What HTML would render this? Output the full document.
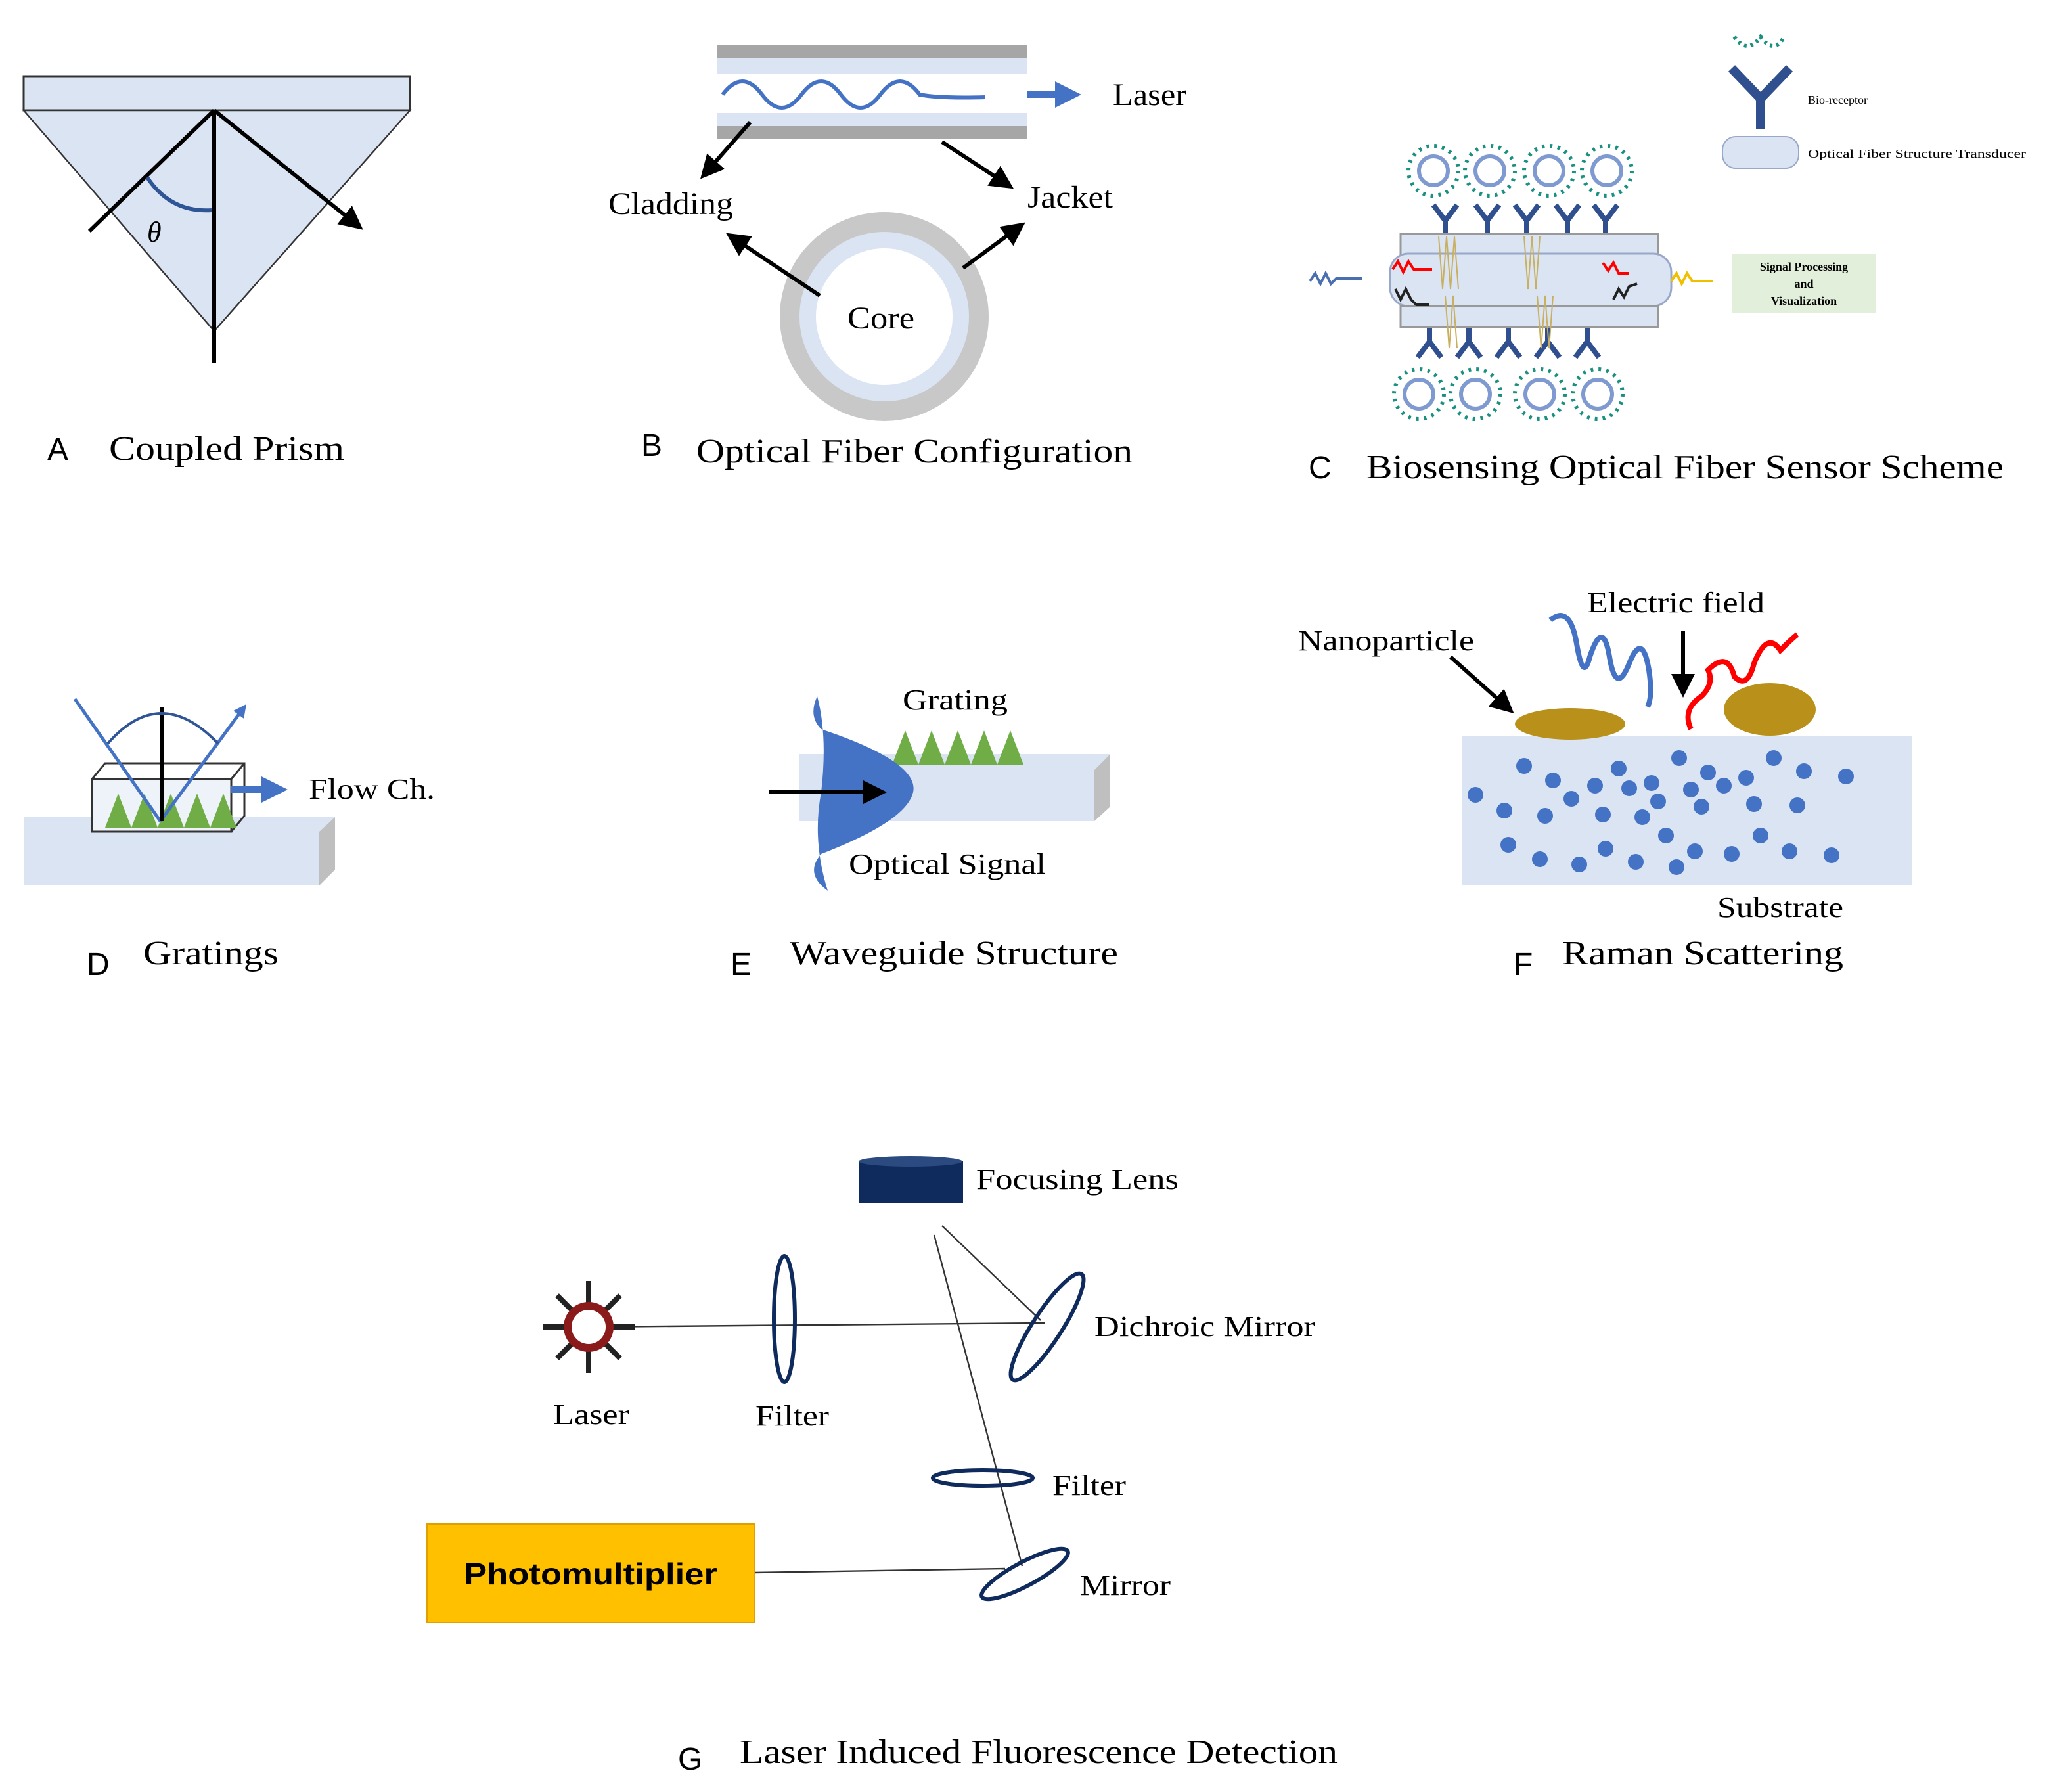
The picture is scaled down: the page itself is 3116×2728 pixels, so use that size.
<!DOCTYPE html>
<html><head><meta charset="utf-8"><style>html,body{margin:0;padding:0;background:#fff}svg{display:block}</style></head><body>
<svg width="3116" height="2728" viewBox="0 0 1558 1364" xmlns="http://www.w3.org/2000/svg" font-family="'Liberation Serif', serif">
<defs>
<marker id="ab" markerWidth="6" markerHeight="6" refX="5" refY="3" orient="auto" markerUnits="strokeWidth"><path d="M0,0 L6,3 L0,6 Z" fill="#000"/></marker>
<marker id="ablue" markerWidth="4" markerHeight="4" refX="3" refY="2" orient="auto" markerUnits="strokeWidth"><path d="M0,0 L4,2 L0,4 Z" fill="#4472c4"/></marker>
<g id="virus"><circle r="11" fill="none" stroke="#7f9ad0" stroke-width="3"/><circle r="19" fill="none" stroke="#1a9080" stroke-width="3" stroke-dasharray="2 4"/></g>
<g id="yr"><path d="M0,0 V-14 M0,-14 L-9,-26 M0,-14 L9,-26" stroke="#2f4f8f" stroke-width="4" fill="none"/></g>
</defs>

<!-- A -->
<rect x="18" y="58" width="294" height="26" fill="#dbe4f3" stroke="#333" stroke-width="1.5"/>
<polygon points="18,84 312,84 163,252" fill="#dbe4f3" stroke="#333" stroke-width="1.2"/>
<line x1="163" y1="84" x2="163" y2="276" stroke="#000" stroke-width="3"/>
<line x1="68" y1="176" x2="163" y2="84" stroke="#000" stroke-width="3"/>
<line x1="163" y1="84" x2="274" y2="173" stroke="#000" stroke-width="3" marker-end="url(#ab)"/>
<path d="M112,135 Q130,162 161,160" fill="none" stroke="#2f5597" stroke-width="3"/>
<text x="112" y="184" font-size="22" font-style="italic">θ</text>
<text x="36" y="350" font-size="24" font-family="'Liberation Sans',sans-serif">A</text>
<text x="83" y="350" font-size="26" textLength="179" lengthAdjust="spacingAndGlyphs">Coupled Prism</text>

<!-- B -->
<rect x="546" y="34" width="236" height="10" fill="#a6a6a6"/>
<rect x="546" y="44" width="236" height="12" fill="#dbe4f3"/>
<rect x="546" y="86" width="236" height="10" fill="#dbe4f3"/>
<rect x="546" y="96" width="236" height="10" fill="#a6a6a6"/>
<path d="M550,72 Q565,52 580,72 T610,72 T640,72 T670,72 T700,72 Q715,75 750,74" fill="none" stroke="#4472c4" stroke-width="3"/>
<line x1="782" y1="72" x2="818" y2="72" stroke="#4472c4" stroke-width="5" marker-end="url(#ablue)"/>
<text x="847" y="80" font-size="24" textLength="56" lengthAdjust="spacingAndGlyphs">Laser</text>
<line x1="571" y1="93" x2="535" y2="134" stroke="#000" stroke-width="3" marker-end="url(#ab)"/>
<line x1="717" y1="108" x2="769" y2="142" stroke="#000" stroke-width="3" marker-end="url(#ab)"/>
<text x="463" y="163" font-size="24" textLength="95" lengthAdjust="spacingAndGlyphs">Cladding</text>
<text x="782" y="158" font-size="24" textLength="65" lengthAdjust="spacingAndGlyphs">Jacket</text>
<circle cx="673" cy="241" r="72" fill="#dbe4f3" stroke="#c8c8c8" stroke-width="15"/>
<circle cx="673" cy="241" r="52" fill="#fff"/>
<text x="645" y="250" font-size="24" textLength="51" lengthAdjust="spacingAndGlyphs">Core</text>
<line x1="624" y1="225" x2="555" y2="179" stroke="#000" stroke-width="3" marker-end="url(#ab)"/>
<line x1="733" y1="204" x2="778" y2="171" stroke="#000" stroke-width="3" marker-end="url(#ab)"/>
<text x="488" y="347" font-size="24" font-family="'Liberation Sans',sans-serif">B</text>
<text x="530" y="352" font-size="26" textLength="332" lengthAdjust="spacingAndGlyphs">Optical Fiber Configuration</text>

<!-- C -->
<use href="#virus" x="1091" y="130"/><use href="#virus" x="1134" y="130"/><use href="#virus" x="1179" y="130"/><use href="#virus" x="1223" y="130"/>
<use href="#virus" x="1080" y="300"/><use href="#virus" x="1123" y="300"/><use href="#virus" x="1172" y="300"/><use href="#virus" x="1216" y="300"/>
<use href="#yr" x="1100" y="182"/><use href="#yr" x="1132" y="182"/><use href="#yr" x="1162" y="182"/><use href="#yr" x="1193" y="182"/><use href="#yr" x="1222" y="182"/>
<g transform="translate(0,428) scale(1,-1)"><use href="#yr" x="1088" y="182"/><use href="#yr" x="1118" y="182"/><use href="#yr" x="1148" y="182"/><use href="#yr" x="1178" y="182"/><use href="#yr" x="1208" y="182"/></g>
<rect x="1066" y="178" width="196" height="16" fill="#dbe4f3" stroke="#999" stroke-width="1.5"/>
<rect x="1058" y="193" width="214" height="40" rx="14" fill="#dbe4f3" stroke="#99a8c8" stroke-width="1.5"/>
<rect x="1066" y="233" width="196" height="16" fill="#dbe4f3" stroke="#999" stroke-width="1.5"/>
<path d="M1095,180 l3,40 l3,-40 l3,40 l3,-40 l3,40 M1160,180 l3,40 l3,-40 l3,40 l3,-40 M1100,225 l3,40 l3,-40 l3,40 M1170,225 l3,40 l3,-40 l3,40 l3,-40" stroke="#c8b060" stroke-width="1" fill="none"/>
<path d="M997,214 l4,-6 l4,8 l4,-8 l4,8 l4,-4 h20" stroke="#4a6fb0" stroke-width="2" fill="none"/>
<path d="M1060,205 l4,-6 l4,8 l4,-8 l4,6 h14" stroke="red" stroke-width="2" fill="none"/>
<path d="M1062,220 l4,8 l4,-8 l4,8 l4,4 h10" stroke="#222" stroke-width="2" fill="none"/>
<path d="M1220,200 l4,6 l4,-6 l4,8 h8" stroke="red" stroke-width="2" fill="none"/>
<path d="M1228,228 l4,-8 l4,6 l4,-8 l6,-2" stroke="#222" stroke-width="2" fill="none"/>
<path d="M1272,214 l4,-6 l4,8 l4,-8 l4,6 h16" stroke="#f0c000" stroke-width="2" fill="none"/>
<rect x="1318" y="193" width="110" height="45" fill="#e2efda"/>
<text x="1373" y="206" font-size="9" font-weight="bold" text-anchor="middle">Signal Processing</text>
<text x="1373" y="219" font-size="9" font-weight="bold" text-anchor="middle">and</text>
<text x="1373" y="232" font-size="9" font-weight="bold" text-anchor="middle">Visualization</text>
<path d="M1320,28 q10,14 20,0 q10,14 18,0" stroke="#1a9080" stroke-width="3" stroke-dasharray="2 3" fill="none"/>
<path d="M1340,98 V75 M1340,75 L1318,52 M1340,75 L1362,52" stroke="#2f4f8f" stroke-width="7" fill="none"/>
<rect x="1311" y="104" width="58" height="24" rx="10" fill="#dbe4f3" stroke="#99a8c8"/>
<text x="1376" y="79" font-size="9">Bio-receptor</text>
<text x="1376" y="120" font-size="9" textLength="166" lengthAdjust="spacingAndGlyphs">Optical Fiber Structure Transducer</text>
<text x="996" y="364" font-size="24" font-family="'Liberation Sans',sans-serif">C</text>
<text x="1040" y="364" font-size="26" textLength="485" lengthAdjust="spacingAndGlyphs">Biosensing Optical Fiber Sensor Scheme</text>

<!-- D -->
<polygon points="18,622 232,622 255,622 243,633 243,674 18,674" fill="#dbe4f3"/>
<polygon points="243,633 255,622 255,662 243,674" fill="#bfbfbf"/>
<rect x="70" y="593" width="106" height="40" fill="#eef2f9" stroke="#333" stroke-width="1.5"/>
<path d="M70,593 l10,-12 h106 v40 l-10,12 M176,593 l10,-12" fill="none" stroke="#333" stroke-width="1.5"/>
<path d="M80,630 l10,-26 l10,26 l10,-26 l10,26 l10,-26 l10,26 l10,-26 l10,26 l10,-26 l10,26 Z" fill="#70ad47"/>
<line x1="57" y1="532" x2="122" y2="625" stroke="#4472c4" stroke-width="2.5"/>
<line x1="122" y1="625" x2="186" y2="538" stroke="#4472c4" stroke-width="2.5" marker-end="url(#ablue)"/>
<line x1="123" y1="538" x2="123" y2="625" stroke="#000" stroke-width="3"/>
<path d="M82,566 Q122,520 166,566" fill="none" stroke="#2f5597" stroke-width="2"/>
<line x1="176" y1="601" x2="214" y2="601" stroke="#4472c4" stroke-width="5" marker-end="url(#ablue)"/>
<text x="235" y="608" font-size="22" textLength="96" lengthAdjust="spacingAndGlyphs">Flow Ch.</text>
<text x="66" y="742" font-size="24" font-family="'Liberation Sans',sans-serif">D</text>
<text x="109" y="734" font-size="26" textLength="103" lengthAdjust="spacingAndGlyphs">Gratings</text>

<!-- E -->
<polygon points="608,574 845,574 833,586 833,625 608,625" fill="#dbe4f3"/>
<polygon points="833,586 845,574 845,614 833,625" fill="#bfbfbf"/>
<path d="M679,582 l10,-26 l10,26 l10,-26 l10,26 l10,-26 l10,26 l10,-26 l10,26 l10,-26 l10,26 Z" fill="#70ad47"/>
<path d="M622,530 Q615,545 625,555 Q700,580 695,603 Q690,625 625,650 Q612,665 630,678 Q618,640 625,603 Q630,560 622,530 Z" fill="#4472c4"/>
<line x1="585" y1="603" x2="672" y2="603" stroke="#000" stroke-width="3" marker-end="url(#ab)"/>
<text x="687" y="540" font-size="22" textLength="80" lengthAdjust="spacingAndGlyphs">Grating</text>
<text x="646" y="665" font-size="22" textLength="150" lengthAdjust="spacingAndGlyphs">Optical Signal</text>
<text x="556" y="742" font-size="24" font-family="'Liberation Sans',sans-serif">E</text>
<text x="601" y="734" font-size="26" textLength="250" lengthAdjust="spacingAndGlyphs">Waveguide Structure</text>

<!-- F -->
<rect x="1113" y="560" width="342" height="114" fill="#dbe4f3"/>
<g fill="#4472c4">
<circle cx="1160" cy="583" r="6"/><circle cx="1123" cy="605" r="6"/><circle cx="1145" cy="617" r="6"/><circle cx="1182" cy="594" r="6"/><circle cx="1196" cy="608" r="6"/><circle cx="1176" cy="621" r="6"/><circle cx="1214" cy="598" r="6"/><circle cx="1232" cy="585" r="6"/><circle cx="1240" cy="600" r="6"/><circle cx="1257" cy="596" r="6"/><circle cx="1262" cy="610" r="6"/><circle cx="1278" cy="577" r="6"/><circle cx="1287" cy="601" r="6"/><circle cx="1300" cy="588" r="6"/><circle cx="1312" cy="598" r="6"/><circle cx="1329" cy="592" r="6"/><circle cx="1350" cy="577" r="6"/><circle cx="1373" cy="587" r="6"/><circle cx="1405" cy="591" r="6"/><circle cx="1220" cy="620" r="6"/><circle cx="1250" cy="622" r="6"/><circle cx="1295" cy="614" r="6"/><circle cx="1335" cy="612" r="6"/><circle cx="1368" cy="613" r="6"/><circle cx="1148" cy="643" r="6"/><circle cx="1172" cy="654" r="6"/><circle cx="1202" cy="658" r="6"/><circle cx="1222" cy="646" r="6"/><circle cx="1245" cy="656" r="6"/><circle cx="1268" cy="636" r="6"/><circle cx="1276" cy="660" r="6"/><circle cx="1290" cy="648" r="6"/><circle cx="1318" cy="650" r="6"/><circle cx="1340" cy="636" r="6"/><circle cx="1362" cy="648" r="6"/><circle cx="1394" cy="651" r="6"/>
</g>
<ellipse cx="1195" cy="551" rx="42" ry="12" fill="#b8901a"/>
<ellipse cx="1347" cy="540" rx="35" ry="20" fill="#b8901a"/>
<path d="M1180,472 Q1195,460 1200,490 T1210,500 Q1220,470 1225,500 T1240,505 Q1250,480 1255,510 Q1258,530 1254,538" fill="none" stroke="#4472c4" stroke-width="4"/>
<path d="M1287,555 Q1280,540 1295,530 Q1305,520 1300,510 Q1315,495 1320,515 Q1330,525 1335,505 Q1345,480 1355,495 Q1365,485 1368,483" fill="none" stroke="red" stroke-width="4"/>
<line x1="1104" y1="500" x2="1150" y2="541" stroke="#000" stroke-width="3" marker-end="url(#ab)"/>
<line x1="1281" y1="480" x2="1281" y2="528" stroke="#000" stroke-width="3" marker-end="url(#ab)"/>
<text x="988" y="495" font-size="22" textLength="134" lengthAdjust="spacingAndGlyphs">Nanoparticle</text>
<text x="1208" y="466" font-size="22" textLength="135" lengthAdjust="spacingAndGlyphs">Electric  field</text>
<text x="1307" y="698" font-size="22" textLength="96" lengthAdjust="spacingAndGlyphs">Substrate</text>
<text x="1152" y="742" font-size="24" font-family="'Liberation Sans',sans-serif">F</text>
<text x="1189" y="734" font-size="26" textLength="214" lengthAdjust="spacingAndGlyphs">Raman Scattering</text>

<!-- G -->
<rect x="654" y="884" width="79" height="32" fill="#0f2a5c"/>
<ellipse cx="693" cy="884" rx="39.5" ry="4" fill="#2a4a80"/>
<text x="743" y="905" font-size="22" textLength="154" lengthAdjust="spacingAndGlyphs">Focusing  Lens</text>
<line x1="450" y1="1010" x2="795" y2="1007" stroke="#333" stroke-width="1.2"/>
<line x1="717" y1="933" x2="792" y2="1005" stroke="#333" stroke-width="1.2"/>
<line x1="711" y1="940" x2="778" y2="1192" stroke="#333" stroke-width="1.2"/>
<line x1="574" y1="1197" x2="765" y2="1194" stroke="#333" stroke-width="1.2"/>
<ellipse cx="597" cy="1004" rx="8" ry="48" fill="none" stroke="#0f2a5c" stroke-width="3"/>
<ellipse cx="797" cy="1010" rx="48" ry="11" transform="rotate(-57 797 1010)" fill="none" stroke="#0f2a5c" stroke-width="3"/>
<ellipse cx="748" cy="1125" rx="38" ry="6" fill="none" stroke="#0f2a5c" stroke-width="3"/>
<ellipse cx="780" cy="1198" rx="37" ry="9" transform="rotate(-28 780 1198)" fill="none" stroke="#0f2a5c" stroke-width="3"/>
<g stroke="#222" stroke-width="4"><line x1="448" y1="975" x2="448" y2="1045"/><line x1="413" y1="1010" x2="483" y2="1010"/><line x1="424" y1="986" x2="472" y2="1034"/><line x1="472" y1="986" x2="424" y2="1034"/></g>
<circle cx="448" cy="1010" r="19" fill="#8b1a1a"/>
<circle cx="448" cy="1010" r="13" fill="#fff"/>
<text x="421" y="1084" font-size="22" textLength="58" lengthAdjust="spacingAndGlyphs">Laser</text>
<text x="575" y="1085" font-size="22" textLength="56" lengthAdjust="spacingAndGlyphs">Filter</text>
<text x="833" y="1017" font-size="22" textLength="168" lengthAdjust="spacingAndGlyphs">Dichroic  Mirror</text>
<text x="801" y="1138" font-size="22" textLength="56" lengthAdjust="spacingAndGlyphs">Filter</text>
<text x="822" y="1214" font-size="22" textLength="69" lengthAdjust="spacingAndGlyphs">Mirror</text>
<rect x="325" y="1160" width="249" height="75" fill="#ffc000" stroke="#e0a000"/>
<text x="353" y="1206" font-size="23" font-weight="bold" font-family="'Liberation Sans',sans-serif" textLength="193" lengthAdjust="spacingAndGlyphs">Photomultiplier</text>
<text x="516" y="1347" font-size="24" font-family="'Liberation Sans',sans-serif">G</text>
<text x="563" y="1342" font-size="26" textLength="455" lengthAdjust="spacingAndGlyphs">Laser Induced Fluorescence Detection</text>
</svg>
</body></html>
